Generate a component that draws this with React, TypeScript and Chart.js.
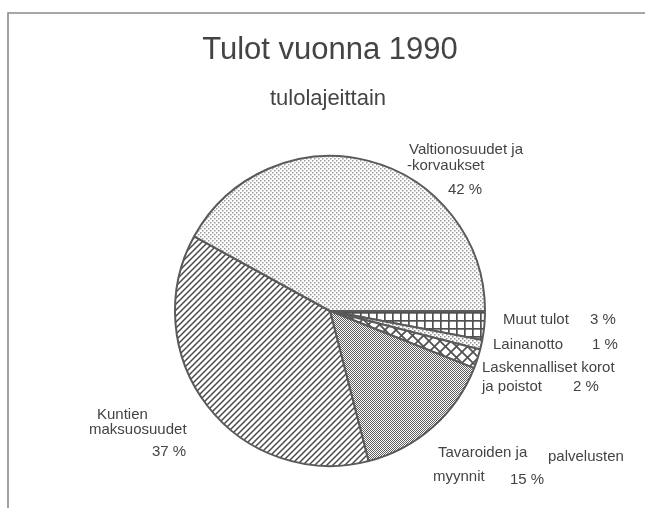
import React, { useEffect, useRef } from 'react';
import { Chart, registerables } from 'chart.js';

Chart.register(...registerables);

// ---- data ----
const categories = [
  'Muut tulot',
  'Lainanotto',
  'Laskennalliset korot ja poistot',
  'Tavaroiden ja palvelusten myynnit',
  'Kuntien maksuosuudet',
  'Valtionosuudet ja -korvaukset',
];
const shares = [3, 1, 2, 15, 37, 42];
const percentLabels = ['3 %', '1 %', '2 %', '15 %', '37 %', '42 %'];
const labelLines = [
  ['Muut tulot'],
  ['Lainanotto'],
  ['Laskennalliset korot', 'ja poistot'],
  ['Tavaroiden ja', 'palvelusten', 'myynnit'],
  ['Kuntien', 'maksuosuudet'],
  ['Valtionosuudet ja', '-korvaukset'],
];
const titleText = 'Tulot vuonna 1990';
const subtitleText = 'tulolajeittain';

// ---- layout (offsets from pie centre, px) ----
const lineOffsets: number[][][] = [
  [[173, 9]],
  [[163, 34]],
  [[152, 57], [152, 76]],
  [[108, 142], [218, 146], [103, 166]],
  [[-233, 104], [-241, 119]],
  [[79, -161], [77, -145]],
];
const pctOffsets: number[][] = [
  [260, 9],
  [262, 34],
  [243, 76],
  [180, 169],
  [-178, 141],
  [118, -121],
];

const INK = '#444444';
const LINE = '#5a5a5a';

function makePattern(size: number, draw: (g: CanvasRenderingContext2D, s: number) => void) {
  const c = document.createElement('canvas');
  c.width = size;
  c.height = size;
  const g = c.getContext('2d')!;
  g.fillStyle = '#ffffff';
  g.fillRect(0, 0, size, size);
  draw(g, size);
  return g.createPattern(c, 'repeat')!;
}

function buildPatterns() {
  const grid = makePattern(8, (g, s) => {
    g.fillStyle = '#505050';
    g.fillRect(0, 0, s, 1.7);
    g.fillRect(0, 0, 1.7, s);
  });
  const dotsMid = makePattern(4, (g) => {
    g.fillStyle = '#8a8a8a';
    g.fillRect(0, 0, 1.5, 1.5);
    g.fillRect(2, 2, 1.5, 1.5);
  });
  const cross = makePattern(11, (g, s) => {
    g.strokeStyle = '#505050';
    g.lineWidth = 1.7;
    g.beginPath();
    g.moveTo(-1, -1); g.lineTo(s + 1, s + 1);
    g.moveTo(-1, s + 1); g.lineTo(s + 1, -1);
    g.stroke();
  });
  const dense = makePattern(2, (g) => {
    g.fillStyle = '#5e5e5e';
    g.fillRect(0, 0, 1, 1);
    g.fillRect(1, 1, 1, 1);
  });
  const stripes = makePattern(6, (g, s) => {
    g.strokeStyle = '#4a4a4a';
    g.lineWidth = 1.5;
    g.beginPath();
    g.moveTo(-1, s + 1); g.lineTo(s + 1, -1);
    g.moveTo(-1, 1); g.lineTo(1, -1);
    g.moveTo(s - 1, s + 1); g.lineTo(s + 1, s - 1);
    g.stroke();
  });
  const light = makePattern(4, (g) => {
    g.fillStyle = '#9a9a9a';
    g.fillRect(0, 0, 1.5, 1.5);
    g.fillRect(2, 2, 1.5, 1.5);
  });
  return [grid, dotsMid, cross, dense, stripes, light];
}

const decorPlugin = {
  id: 'decor',
  beforeDraw(chart: any) {
    const ctx = chart.ctx;
    ctx.save();
    ctx.fillStyle = '#ffffff';
    ctx.fillRect(0, 0, chart.width, chart.height);
    ctx.strokeStyle = '#8a8a8a';
    ctx.lineWidth = 1.6;
    ctx.beginPath();
    ctx.moveTo(8, chart.height);
    ctx.lineTo(8, 13);
    ctx.lineTo(chart.width, 13);
    ctx.stroke();
    ctx.restore();
  },
  afterDraw(chart: any) {
    const ctx = chart.ctx;
    const meta = chart.getDatasetMeta(0);
    const arc = meta.data[0];
    const cx = arc.x;
    const cy = arc.y;
    ctx.save();
    ctx.fillStyle = INK;
    ctx.textBaseline = 'middle';
    ctx.textAlign = 'center';
    ctx.font = '31px "Liberation Sans", Arial, sans-serif';
    ctx.fillText(titleText, cx, 50);
    ctx.font = '22px "Liberation Sans", Arial, sans-serif';
    ctx.fillText(subtitleText, cx - 2, 99);
    ctx.textAlign = 'left';
    ctx.font = '15px "Liberation Sans", Arial, sans-serif';
    labelLines.forEach((lines, i) => {
      lines.forEach((t, j) => {
        const [dx, dy] = lineOffsets[i][j];
        ctx.fillText(t, cx + dx, cy + dy);
      });
      const [px, py] = pctOffsets[i];
      ctx.fillText(percentLabels[i], cx + px, cy + py);
    });
    ctx.restore();
  },
};

export default function App() {
  const ref = useRef<HTMLCanvasElement | null>(null);
  useEffect(() => {
    if (!ref.current) return;
    const patterns = buildPatterns();
    const chart = new Chart(ref.current, {
      type: 'pie',
      data: {
        labels: categories,
        datasets: [
          {
            data: shares,
            backgroundColor: patterns as any,
            borderColor: LINE,
            borderWidth: 2,
            radius: 155,
          } as any,
        ],
      },
      options: {
        responsive: false,
        maintainAspectRatio: false,
        animation: false,
        rotation: 90,
        layout: { padding: { left: 175, right: 160, top: 156, bottom: 42 } },
        plugins: {
          legend: { display: false },
          tooltip: { enabled: false },
          title: { display: false },
        },
      },
      plugins: [decorPlugin],
    });
    return () => chart.destroy();
  }, []);
  return (
    <div style={{ position: 'absolute', left: 0, top: 0, width: 645, height: 508, background: '#fff' }}>
      <canvas ref={ref} width={645} height={508} style={{ display: 'block' }} />
    </div>
  );
}
